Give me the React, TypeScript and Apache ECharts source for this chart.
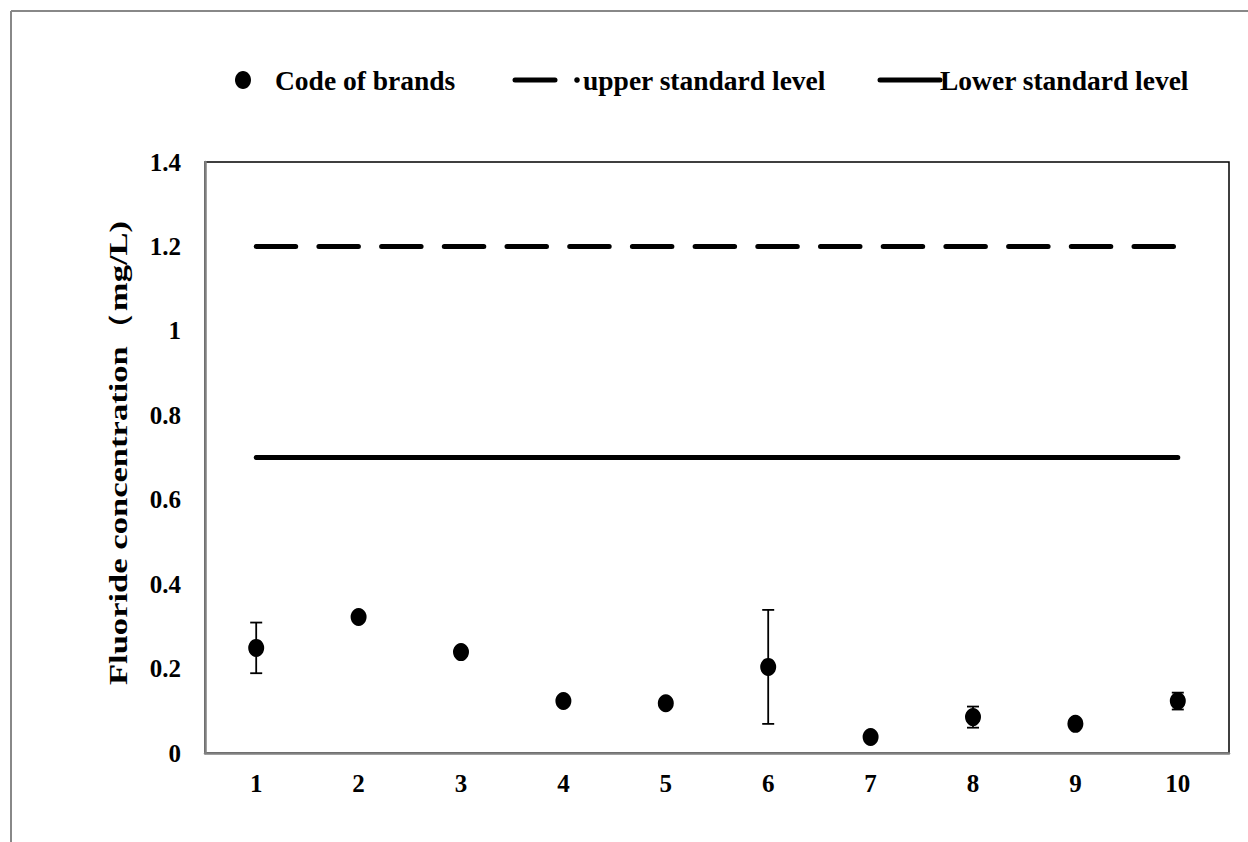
import React, { useEffect, useRef } from "react";
import * as echarts from "echarts";

const categories = ["1", "2", "3", "4", "5", "6", "7", "8", "9", "10"];
const means = [0.249, 0.322, 0.239, 0.123, 0.118, 0.204, 0.038, 0.085, 0.069, 0.123];
const errors = [0.06, 0, 0, 0, 0.004, 0.135, 0, 0.025, 0, 0.02];
const upperLevel = [1.2, 1.2, 1.2, 1.2, 1.2, 1.2, 1.2, 1.2, 1.2, 1.2];
const lowerLevel = [0.7, 0.7, 0.7, 0.7, 0.7, 0.7, 0.7, 0.7, 0.7, 0.7];
const legendNames = ["Code of brands", "upper standard level", "Lower standard level"];
const yAxisName = "Fluoride concentration（mg/L)";

const FONT = "'Liberation Serif', 'Times New Roman', serif";

export default function App() {
  const ref = useRef<HTMLDivElement>(null);
  useEffect(() => {
    if (!ref.current) return;
    const chart = echarts.init(ref.current, undefined, { renderer: "svg" });
    const legendY = 80;
    const legendStyle = {
      fontFamily: FONT,
      fontWeight: "bold",
      fontSize: 27.5,
      fill: "#000",
    };
    const nameStyle = {
      fontFamily: FONT,
      fontWeight: "bold",
      fontSize: 26,
      fill: "#000",
    };
    chart.setOption({
      animation: false,
      backgroundColor: "#fff",
      grid: {
        left: 205,
        right: 19,
        top: 162,
        bottom: 89,
        show: true,
        borderColor: "#000",
        borderWidth: 1.5,
        containLabel: false,
      },
      xAxis: {
        type: "category",
        data: categories,
        boundaryGap: true,
        axisLine: { show: true, lineStyle: { color: "#808080", width: 2.5 } },
        axisTick: { show: false },
        axisLabel: { color: "#000", fontFamily: FONT, fontWeight: "bold", fontSize: 25, margin: 18 },
        splitLine: { show: false },
      },
      yAxis: {
        type: "value",
        min: 0,
        max: 1.4,
        interval: 0.2,
        axisLine: { show: true, lineStyle: { color: "#808080", width: 2.5 } },
        axisTick: { show: false },
        axisLabel: { color: "#000", fontFamily: FONT, fontWeight: "bold", fontSize: 25, margin: 24 },
        splitLine: { show: false },
      },
      series: [
        {
          name: legendNames[1],
          type: "line",
          data: upperLevel,
          symbol: "none",
          lineStyle: { color: "#000", width: 5, type: [39.5, 23.2], cap: "round" },
          z: 2,
        },
        {
          name: legendNames[2],
          type: "line",
          data: lowerLevel,
          symbol: "none",
          lineStyle: { color: "#000", width: 5, type: "solid", cap: "round" },
          z: 2,
        },
        {
          type: "custom",
          name: "err",
          data: means.map((m, i) => [i, m, errors[i]]),
          encode: { x: 0, y: 1 },
          renderItem: (params: any, api: any) => {
            const x = api.value(0);
            const y = api.value(1);
            const e = api.value(2);
            if (!e) return { type: "group", children: [] };
            const top = api.coord([x, y + e]);
            const bot = api.coord([x, y - e]);
            const hw = 6;
            const style = { stroke: "#000", lineWidth: 1.8 };
            return {
              type: "group",
              children: [
                { type: "line", shape: { x1: top[0], y1: top[1], x2: bot[0], y2: bot[1] }, style },
                { type: "line", shape: { x1: top[0] - hw, y1: top[1], x2: top[0] + hw, y2: top[1] }, style },
                { type: "line", shape: { x1: bot[0] - hw, y1: bot[1], x2: bot[0] + hw, y2: bot[1] }, style },
              ],
            };
          },
          z: 3,
        },
        {
          name: legendNames[0],
          type: "scatter",
          data: means,
          symbol: "circle",
          symbolSize: [16, 18],
          itemStyle: { color: "#000", opacity: 1 },
          z: 4,
        },
      ],
      graphic: [
        { type: "line", shape: { x1: 11, y1: 11, x2: 1248, y2: 11 }, style: { stroke: "#888", lineWidth: 2 } },
        { type: "line", shape: { x1: 11, y1: 11, x2: 11, y2: 842 }, style: { stroke: "#888", lineWidth: 2 } },
        {
          type: "text",
          x: 119,
          y: 453,
          rotation: Math.PI / 2,
          scaleX: 1.33,
          style: { ...nameStyle, text: yAxisName, align: "center", verticalAlign: "middle" },
        },
        { type: "ellipse", shape: { cx: 243, cy: legendY, rx: 8, ry: 9 }, style: { fill: "#000" } },
        { type: "text", x: 275, y: legendY, style: { ...legendStyle, text: legendNames[0], verticalAlign: "middle", align: "left" } },
        { type: "line", shape: { x1: 515, y1: legendY, x2: 555, y2: legendY }, style: { stroke: "#000", lineWidth: 5, lineCap: "round" } },
        { type: "circle", shape: { cx: 577, cy: legendY, r: 2.8 }, style: { fill: "#000" } },
        { type: "text", x: 583, y: legendY, style: { ...legendStyle, text: legendNames[1], verticalAlign: "middle", align: "left" } },
        { type: "line", shape: { x1: 880, y1: legendY, x2: 940, y2: legendY }, style: { stroke: "#000", lineWidth: 5, lineCap: "round" } },
        { type: "text", x: 940, y: legendY, style: { ...legendStyle, text: legendNames[2], verticalAlign: "middle", align: "left" } },
      ],
    });
    return () => chart.dispose();
  }, []);
  return (
    <div
      ref={ref}
      style={{ position: "absolute", left: 0, top: 0, width: 1248, height: 842, background: "#fff" }}
    />
  );
}
